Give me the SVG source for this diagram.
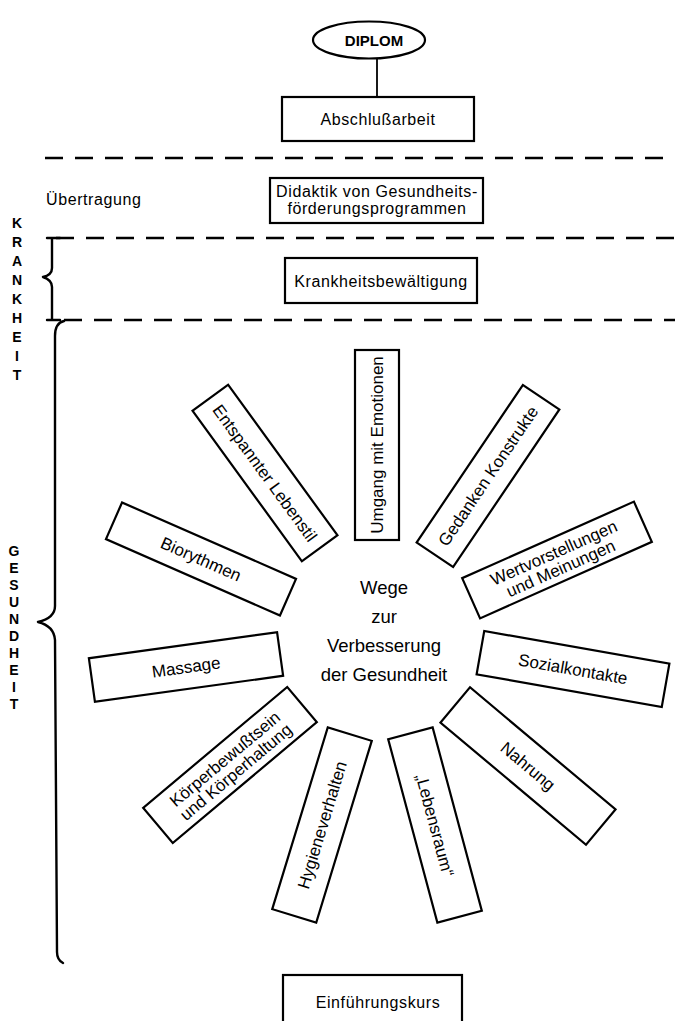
<svg xmlns="http://www.w3.org/2000/svg" width="675" height="1021" viewBox="0 0 675 1021">
<style>
.box{fill:#fff;stroke:#000;stroke-width:2.2}
.t{font-family:"Liberation Sans",Arial,sans-serif;font-size:16px;letter-spacing:0.6px;fill:#000;text-anchor:middle}
.r{font-family:"Liberation Sans",Arial,sans-serif;font-size:17px;fill:#000;text-anchor:middle}
.c{font-family:"Liberation Sans",Arial,sans-serif;font-size:18.5px;fill:#000;text-anchor:middle}
.v{font-family:"Liberation Sans",Arial,sans-serif;font-size:14px;font-weight:bold;fill:#000;text-anchor:middle}
.dash{stroke:#000;stroke-width:2.6;stroke-dasharray:18 12;fill:none}
.brace{stroke:#000;stroke-width:2.4;fill:none;stroke-linecap:round;stroke-linejoin:round}
.conn{stroke:#000;stroke-width:1.8;fill:none}
</style>
<rect width="675" height="1021" fill="#fff"/>

<g id="separators">
<line class="dash" x1="45" y1="158" x2="675" y2="158"/>
<line class="dash" x1="56" y1="238" x2="675" y2="238"/>
<line class="dash" x1="64" y1="320" x2="675" y2="320"/>
</g>

<g id="connectors">
<line class="conn" x1="377" y1="58" x2="377" y2="97"/>
</g>

<g id="n-diplom">
<ellipse cx="369" cy="40" rx="56" ry="18.5" fill="#fff" stroke="#000" stroke-width="2.2"/>
<text x="374" y="46" font-family="Liberation Sans, Arial, sans-serif" font-size="15" font-weight="bold" text-anchor="middle">DIPLOM</text>
</g>

<g id="n-abschluss">
<rect class="box" x="282" y="97" width="192" height="44"/>
<text class="t" x="378" y="125">Abschlußarbeit</text>
</g>

<g id="l-uebertragung">
<text class="t" x="46" y="205" style="text-anchor:start">Übertragung</text>
</g>

<g id="n-didaktik">
<rect class="box" x="270" y="178" width="213" height="45"/>
<text class="t" x="377" y="197">Didaktik von Gesundheits-</text>
<text class="t" x="377" y="214">förderungsprogrammen</text>
</g>

<g id="n-krankheit">
<rect class="box" x="285" y="258" width="192" height="45"/>
<text class="t" x="381" y="287">Krankheitsbewältigung</text>
</g>

<g id="l-krankheit">
<path class="brace" d="M47,238 L60,238 M52,238 L52,268 Q52,275 43,277 Q52,280 52,287 L52,320 M47,320 L60,320"/>
<text class="v" x="17" y="228">K</text>
<text class="v" x="17" y="247">R</text>
<text class="v" x="17" y="266">A</text>
<text class="v" x="17" y="285">N</text>
<text class="v" x="17" y="304">K</text>
<text class="v" x="17" y="323">H</text>
<text class="v" x="17" y="342">E</text>
<text class="v" x="17" y="361">I</text>
<text class="v" x="17" y="380">T</text>
</g>

<g id="l-gesundheit">
<path class="brace" d="M64,321 Q55,323 55,336 L55,606 Q55,618 38,622 Q54,626 55,640 L57,952 Q57,960 63,963"/>
<text class="v" x="14" y="556">G</text>
<text class="v" x="14" y="573">E</text>
<text class="v" x="14" y="590">S</text>
<text class="v" x="14" y="607">U</text>
<text class="v" x="14" y="624">N</text>
<text class="v" x="14" y="641">D</text>
<text class="v" x="14" y="658">H</text>
<text class="v" x="14" y="675">E</text>
<text class="v" x="14" y="692">I</text>
<text class="v" x="14" y="709">T</text>
</g>

<g id="n-umgang" transform="translate(377,445) rotate(-90)">
<rect class="box" x="-95" y="-22" width="190" height="44"/>
<text class="r" y="6">Umgang mit Emotionen</text>
</g>

<g id="n-entspannt" transform="translate(265,473) rotate(54)">
<rect class="box" x="-93" y="-22" width="186" height="44"/>
<text class="r" y="6">Entspannter Lebenstil</text>
</g>

<g id="n-biorythmen" transform="translate(201,559) rotate(23.7)">
<rect class="box" x="-95" y="-20" width="190" height="40"/>
<text class="r" y="6">Biorythmen</text>
</g>

<g id="n-massage" transform="translate(186,667) rotate(-7.9)">
<rect class="box" x="-95" y="-22" width="190" height="44"/>
<text class="r" y="6">Massage</text>
</g>

<g id="n-koerper" transform="translate(230,765) rotate(-40)">
<rect class="box" x="-94" y="-23" width="188" height="46"/>
<text class="r" y="-2">Körperbewußtsein</text>
<text class="r" y="15">und Körperhaltung</text>
</g>

<g id="n-hygiene" transform="translate(322,825) rotate(-73)">
<rect class="box" x="-95" y="-23" width="190" height="46"/>
<text class="r" y="6">Hygieneverhalten</text>
</g>

<g id="n-lebensraum" transform="translate(435,825) rotate(75)">
<rect class="box" x="-95" y="-23" width="190" height="46"/>
<text class="r" y="6">„Lebensraum“</text>
</g>

<g id="n-nahrung" transform="translate(528,766) rotate(40)">
<rect class="box" x="-95" y="-23" width="190" height="46"/>
<text class="r" y="6">Nahrung</text>
</g>

<g id="n-sozial" transform="translate(573,669) rotate(10)">
<rect class="box" x="-94" y="-22" width="188" height="44"/>
<text class="r" y="6">Sozialkontakte</text>
</g>

<g id="n-wert" transform="translate(557,560) rotate(-24)">
<rect class="box" x="-94" y="-22" width="188" height="44"/>
<text class="r" y="-2">Wertvorstellungen</text>
<text class="r" y="15">und Meinungen</text>
</g>

<g id="n-gedanken" transform="translate(488,476) rotate(-56)">
<rect class="box" x="-95" y="-22" width="190" height="44"/>
<text class="r" y="6">Gedanken Konstrukte</text>
</g>

<g id="n-center">
<text class="c" x="384" y="594">Wege</text>
<text class="c" x="384" y="623">zur</text>
<text class="c" x="384" y="652">Verbesserung</text>
<text class="c" x="384" y="681">der Gesundheit</text>
</g>

<g id="n-einfuehrung">
<rect class="box" x="283" y="975" width="179" height="60"/>
<text class="t" x="378" y="1008">Einführungskurs</text>
</g>
</svg>
